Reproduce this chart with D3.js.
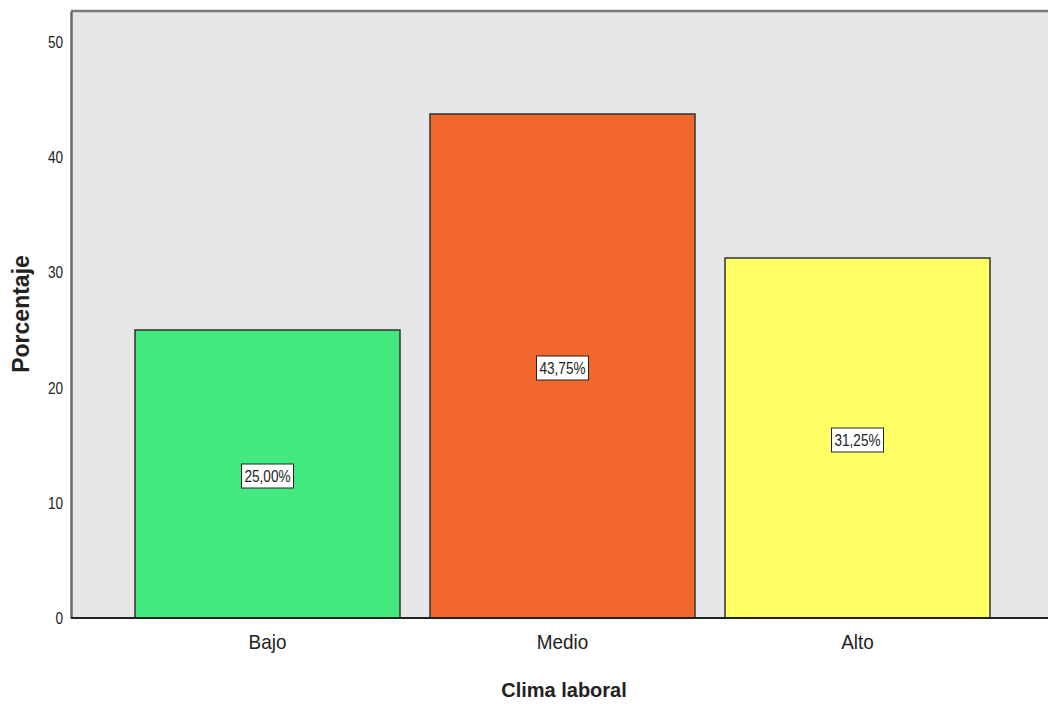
<!DOCTYPE html>
<html>
<head>
  <meta charset="UTF-8">
  <title>Clima laboral</title>
  <script src="https://cdn.jsdelivr.net/npm/d3@7"></script>
  <style>
    body { margin: 0; background: #fff; }
    svg text { font-family: "Liberation Sans", Arial, sans-serif; fill: #222; }
  </style>
</head>
<body>
<div class="chart"></div>
<script>
  var categories = ['Bajo', 'Medio', 'Alto'];
  var values = [25.00, 43.75, 31.25];
  var labels = ['25,00%', '43,75%', '31,25%'];
  var colors = ['#43e97f', '#f2672b', '#ffff66'];
  var yTicks = [0, 10, 20, 30, 40, 50];

  var W = 1048, H = 704;
  var margin = { top: 11, left: 71 };
  var width = W - margin.left + 10;
  var height = 618 - margin.top;

  var svg = d3.select('.chart').append('svg')
    .attr('width', W).attr('height', H);
  var g = svg.append('g')
    .attr('transform', 'translate(' + margin.left + ',' + margin.top + ')');

  var yScale = d3.scaleLinear().domain([0, 50 * 607 / 576]).range([height, 0]);

  var xScale = d3.scaleBand()
    .domain(categories)
    .range([49, 934])
    .paddingInner(30 / 295)
    .paddingOuter(15 / 295);

  // plot background + top border
  g.append('rect')
    .attr('x', 0).attr('y', 0)
    .attr('width', width).attr('height', height)
    .attr('fill', '#e6e7e9');
  g.append('line')
    .attr('x1', 0).attr('x2', width).attr('y1', 0).attr('y2', 0)
    .attr('stroke', '#7a7a7a').attr('stroke-width', 2.5);

  // bars
  g.selectAll('rect.bar')
    .data(values)
    .enter().append('rect')
    .attr('class', 'bar')
    .attr('x', (d, i) => xScale(categories[i]))
    .attr('y', d => yScale(d))
    .attr('width', xScale.bandwidth())
    .attr('height', d => height - yScale(d))
    .attr('fill', (d, i) => colors[i])
    .attr('stroke', '#333')
    .attr('stroke-width', 1.5);

  // value labels
  var lab = g.selectAll('g.lab')
    .data(values)
    .enter().append('g')
    .attr('class', 'lab')
    .attr('transform', (d, i) => 'translate(' + (xScale(categories[i]) + xScale.bandwidth() / 2) + ',' + (yScale(d / 2) + 2) + ')');
  lab.append('rect')
    .attr('x', -26).attr('y', -12)
    .attr('width', 52).attr('height', 24)
    .attr('fill', '#fff').attr('stroke', '#222').attr('stroke-width', 1);
  lab.append('text')
    .attr('text-anchor', 'middle')
    .attr('dy', '0.36em')
    .attr('transform', 'scale(0.85,1)')
    .style('font-size', '16px')
    .text((d, i) => labels[i]);

  // y axis
  var yAxis = d3.axisLeft(yScale).tickValues(yTicks).tickSize(0).tickPadding(8);
  var ya = g.append('g').call(yAxis);
  ya.select('.domain').attr('stroke', '#6a6a6a').attr('stroke-width', 2.5);
  ya.selectAll('text')
    .attr('x', -10)
    .attr('transform', 'scale(0.8,1)')
    .style('font-size', '17px').attr('fill', '#333');

  // x axis
  var xAxis = d3.axisBottom(xScale).tickSize(0).tickPadding(16);
  var xa = g.append('g')
    .attr('transform', 'translate(0,' + height + ')')
    .call(xAxis);
  xa.select('.domain').attr('d', 'M0,0H' + width).attr('stroke', '#222').attr('stroke-width', 2);
  xa.selectAll('text')
    .attr('x', 0)
    .attr('transform', 'scale(0.9,1)')
    .style('font-size', '21px').attr('fill', '#333');

  // titles
  svg.append('text')
    .attr('x', 564).attr('y', 697)
    .attr('text-anchor', 'middle')
    .style('font-size', '20px').style('font-weight', 'bold')
    .attr('fill', '#111')
    .text('Clima laboral');
  svg.append('text')
    .attr('transform', 'translate(29,314) rotate(-90)')
    .attr('text-anchor', 'middle')
    .style('font-size', '23px').style('font-weight', 'bold')
    .attr('fill', '#111')
    .text('Porcentaje');
</script>
</body>
</html>
